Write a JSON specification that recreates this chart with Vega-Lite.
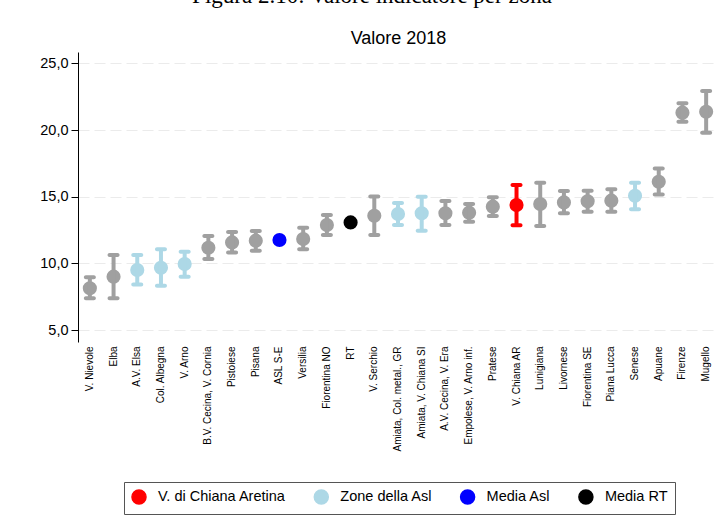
{
  "$schema": "https://vega.github.io/schema/vega-lite/v6.json",
  "autosize": {"type": "none"},
  "width": 640,
  "height": 290,
  "padding": {"left": 78, "top": 52, "right": 6, "bottom": 189},
  "background": "white",
  "title": {
    "text": "Figura 2.10: Valore indicatore per zona",
    "font": "Liberation Serif",
    "fontSize": 23,
    "fontWeight": "normal",
    "color": "black",
    "anchor": "middle",
    "frame": "group",
    "dx": -26,
    "offset": 21
  },
  "data": {
    "values": [
      {"zona": "V. Nievole", "valore": 8.13, "lo": 7.38, "hi": 8.95, "gruppo": "Altre zone"},
      {"zona": "Elba", "valore": 9.0, "lo": 7.38, "hi": 10.62, "gruppo": "Altre zone"},
      {"zona": "A.V. Elsa", "valore": 9.5, "lo": 8.42, "hi": 10.62, "gruppo": "Zone della Asl"},
      {"zona": "Col. Albegna", "valore": 9.67, "lo": 8.32, "hi": 11.05, "gruppo": "Zone della Asl"},
      {"zona": "V. Arno", "valore": 9.95, "lo": 9.0, "hi": 10.87, "gruppo": "Zone della Asl"},
      {"zona": "B.V. Cecina, V. Cornia", "valore": 11.17, "lo": 10.32, "hi": 12.05, "gruppo": "Altre zone"},
      {"zona": "Pistoiese", "valore": 11.57, "lo": 10.82, "hi": 12.35, "gruppo": "Altre zone"},
      {"zona": "Pisana", "valore": 11.7, "lo": 10.95, "hi": 12.42, "gruppo": "Altre zone"},
      {"zona": "ASL S-E", "valore": 11.75, "lo": null, "hi": null, "gruppo": "Media Asl"},
      {"zona": "Versilia", "valore": 11.82, "lo": 11.05, "hi": 12.67, "gruppo": "Altre zone"},
      {"zona": "Fiorentina NO", "valore": 12.87, "lo": 12.12, "hi": 13.62, "gruppo": "Altre zone"},
      {"zona": "RT", "valore": 13.07, "lo": null, "hi": null, "gruppo": "Media RT"},
      {"zona": "V. Serchio", "valore": 13.57, "lo": 12.12, "hi": 15.02, "gruppo": "Altre zone"},
      {"zona": "Amiata, Col. metal., GR", "valore": 13.7, "lo": 12.87, "hi": 14.52, "gruppo": "Zone della Asl"},
      {"zona": "Amiata, V. Chiana SI", "valore": 13.75, "lo": 12.45, "hi": 15.0, "gruppo": "Zone della Asl"},
      {"zona": "A.V. Cecina, V. Era", "valore": 13.75, "lo": 12.87, "hi": 14.67, "gruppo": "Altre zone"},
      {"zona": "Empolese, V. Arno inf.", "valore": 13.8, "lo": 13.12, "hi": 14.45, "gruppo": "Altre zone"},
      {"zona": "Pratese", "valore": 14.25, "lo": 13.55, "hi": 14.95, "gruppo": "Altre zone"},
      {"zona": "V. Chiana AR", "valore": 14.37, "lo": 12.85, "hi": 15.87, "gruppo": "V. di Chiana Aretina"},
      {"zona": "Lunigiana", "valore": 14.45, "lo": 12.8, "hi": 16.05, "gruppo": "Altre zone"},
      {"zona": "Livornese", "valore": 14.57, "lo": 13.75, "hi": 15.42, "gruppo": "Altre zone"},
      {"zona": "Fiorentina SE", "valore": 14.65, "lo": 13.87, "hi": 15.45, "gruppo": "Altre zone"},
      {"zona": "Piana Lucca", "valore": 14.7, "lo": 13.87, "hi": 15.55, "gruppo": "Altre zone"},
      {"zona": "Senese", "valore": 15.07, "lo": 14.05, "hi": 16.05, "gruppo": "Zone della Asl"},
      {"zona": "Apuane", "valore": 16.12, "lo": 15.17, "hi": 17.12, "gruppo": "Altre zone"},
      {"zona": "Firenze", "valore": 21.3, "lo": 20.62, "hi": 22.0, "gruppo": "Altre zone"},
      {"zona": "Mugello", "valore": 21.37, "lo": 19.8, "hi": 22.92, "gruppo": "Altre zone"}
    ]
  },
  "config": {
    "font": "Liberation Sans",
    "view": {"stroke": null}
  },
  "resolve": {"axis": {"x": "independent"}},
  "layer": [
    {
      "mark": {"type": "point", "filled": true, "opacity": 1, "size": 200, "shape": "circle"},
      "encoding": {
        "x": {
          "field": "zona", "type": "nominal", "sort": null,
          "scale": {"type": "band", "paddingInner": 0, "paddingOuter": 0},
          "axis": {
            "orient": "top", "title": "Valore 2018", "labels": false, "ticks": false,
            "domain": false, "grid": false, "titleFontSize": 18, "titleFontWeight": "normal",
            "titleColor": "black", "titleBaseline": "alphabetic", "titlePadding": 8.7
          }
        },
        "y": {
          "field": "valore", "type": "quantitative",
          "scale": {"domain": [4.1, 25.85], "nice": false, "zero": false},
          "axis": {
            "title": null, "values": [5, 10, 15, 20, 25],
            "labelExpr": "replace(format(datum.value, '.1f'), '.', ',')",
            "labelFontSize": 14.5, "labelColor": "black", "labelPadding": 3,
            "tickSize": 7, "tickColor": "black", "domainColor": "black", "domainWidth": 1,
            "grid": true, "gridColor": "#ebebeb", "gridDash": [11, 5], "gridWidth": 1
          }
        },
        "color": {
          "field": "gruppo", "type": "nominal",
          "scale": {
            "domain": ["V. di Chiana Aretina", "Zone della Asl", "Media Asl", "Media RT", "Altre zone"],
            "range": ["#ff0000", "#add8e6", "#0000ff", "#000000", "#a0a0a0"]
          },
          "legend": {
            "title": null, "orient": "none", "legendX": 46, "legendY": 430, "direction": "horizontal",
            "values": ["V. di Chiana Aretina", "Zone della Asl", "Media Asl", "Media RT"],
            "symbolType": "circle", "symbolSize": 196, "symbolOpacity": 1,
            "labelFontSize": 14.5, "labelColor": "black", "labelOffset": 11,
            "columnPadding": 25.3, "padding": 7,
            "strokeColor": "#555555"
          }
        }
      }
    },
    {
      "transform": [{"filter": "isValid(datum.lo)"}],
      "mark": {"type": "rule", "strokeWidth": 4, "opacity": 1},
      "encoding": {
        "x": {
          "field": "zona", "type": "nominal", "sort": null,
          "axis": {
            "orient": "bottom", "title": null, "labelAngle": -90, "labelAlign": "right",
            "labelBaseline": "middle", "labelFontSize": 10, "labelColor": "black",
            "labelPadding": 4, "ticks": false, "domain": false, "grid": false
          }
        },
        "y": {"field": "lo", "type": "quantitative"},
        "y2": {"field": "hi"},
        "color": {"field": "gruppo", "type": "nominal"}
      }
    },
    {
      "transform": [{"filter": "isValid(datum.lo)"}],
      "mark": {"type": "tick", "thickness": 4, "size": 12, "cornerRadius": 2, "opacity": 1},
      "encoding": {
        "x": {"field": "zona", "type": "nominal", "sort": null, "axis": null},
        "y": {"field": "lo", "type": "quantitative"},
        "color": {"field": "gruppo", "type": "nominal"}
      }
    },
    {
      "transform": [{"filter": "isValid(datum.hi)"}],
      "mark": {"type": "tick", "thickness": 4, "size": 12, "cornerRadius": 2, "opacity": 1},
      "encoding": {
        "x": {"field": "zona", "type": "nominal", "sort": null, "axis": null},
        "y": {"field": "hi", "type": "quantitative"},
        "color": {"field": "gruppo", "type": "nominal"}
      }
    }
  ]
}
